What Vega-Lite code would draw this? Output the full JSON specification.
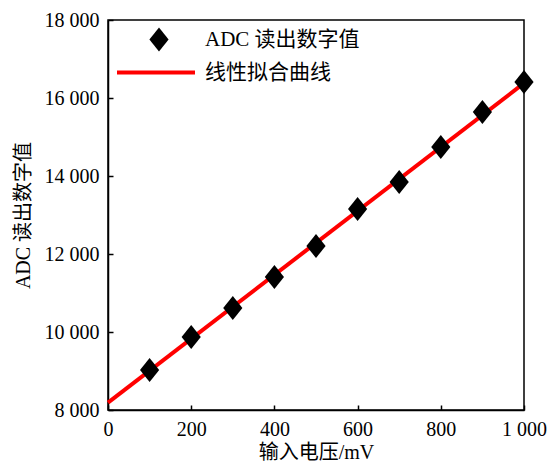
{
  "$schema": "https://vega.github.io/schema/vega-lite/v6.json",
  "width": 416,
  "height": 390,
  "autosize": {"type": "none"},
  "padding": {"left": 108, "top": 20, "right": 33, "bottom": 52},
  "background": "white",
  "config": {
    "view": {"stroke": "black", "strokeWidth": 1.5},
    "font": "Liberation Serif, Noto Sans CJK SC",
    "axis": {
      "grid": false,
      "domainColor": "black",
      "domainWidth": 1.5,
      "tickColor": "black",
      "tickWidth": 1.5,
      "tickSize": -5,
      "labelFont": "Liberation Serif",
      "labelFontSize": 20,
      "labelColor": "black",
      "labelFlush": false,
      "titleFont": "Liberation Serif, Noto Sans CJK SC",
      "titleFontSize": 20,
      "titleFontWeight": "normal",
      "titleColor": "black"
    }
  },
  "data": {
    "values": [
      {"x": 100, "y": 9025, "series": "ADC 读出数字值"},
      {"x": 200, "y": 9872, "series": "ADC 读出数字值"},
      {"x": 300, "y": 10615, "series": "ADC 读出数字值"},
      {"x": 400, "y": 11410, "series": "ADC 读出数字值"},
      {"x": 500, "y": 12205, "series": "ADC 读出数字值"},
      {"x": 600, "y": 13154, "series": "ADC 读出数字值"},
      {"x": 700, "y": 13846, "series": "ADC 读出数字值"},
      {"x": 800, "y": 14744, "series": "ADC 读出数字值"},
      {"x": 900, "y": 15641, "series": "ADC 读出数字值"},
      {"x": 1000, "y": 16410, "series": "ADC 读出数字值"},
      {"x": 0, "y": 8190, "series": "线性拟合曲线"},
      {"x": 1000, "y": 16380, "series": "线性拟合曲线"}
    ]
  },
  "encoding": {
    "x": {
      "field": "x",
      "type": "quantitative",
      "scale": {"domain": [0, 1000], "nice": false},
      "axis": {
        "values": [0, 200, 400, 600, 800, 1000],
        "labelExpr": "replace(format(datum.value, ','), ',', ' ')",
        "labelPadding": 14,
        "title": "输入电压/mV",
        "titlePadding": 3
      }
    },
    "y": {
      "field": "y",
      "type": "quantitative",
      "scale": {"domain": [8000, 18000], "nice": false},
      "axis": {
        "values": [8000, 10000, 12000, 14000, 16000, 18000],
        "labelExpr": "replace(format(datum.value, ','), ',', ' ')",
        "labelPadding": 14,
        "title": "ADC 读出数字值",
        "titlePadding": 11
      }
    },
    "color": {
      "field": "series",
      "type": "nominal",
      "scale": {"domain": ["ADC 读出数字值", "线性拟合曲线"], "range": ["black", "#ff0000"]},
      "legend": {
        "title": null,
        "orient": "none",
        "legendX": 0,
        "legendY": 9,
        "padding": 0,
        "labelFontSize": 21,
        "labelFont": "Liberation Serif, Noto Sans CJK SC",
        "labelColor": "black",
        "rowPadding": 9,
        "encode": {
          "symbols": {
            "update": {
              "x": {"signal": "datum.value === 'ADC 读出数字值' ? 51 : 48"},
              "shape": {"signal": "datum.value === 'ADC 读出数字值' ? 'M0,-1L0.8,0L0,1L-0.8,0Z' : 'stroke'"},
              "size": {"signal": "datum.value === 'ADC 读出数字值' ? 576 : 6084"},
              "fill": {"signal": "datum.value === 'ADC 读出数字值' ? 'black' : 'transparent'"},
              "stroke": {"signal": "datum.value === 'ADC 读出数字值' ? 'black' : '#ff0000'"},
              "strokeWidth": {"signal": "datum.value === 'ADC 读出数字值' ? 0 : 4"},
              "opacity": {"value": 1}
            }
          },
          "labels": {
            "update": {
              "x": {"value": 97}
            }
          }
        }
      }
    }
  },
  "layer": [
    {
      "transform": [{"filter": "datum.series === '线性拟合曲线'"}],
      "mark": {"type": "line", "strokeWidth": 4}
    },
    {
      "transform": [{"filter": "datum.series === 'ADC 读出数字值'"}],
      "mark": {"type": "point", "filled": true, "opacity": 1, "size": 576, "shape": "M0,-1L0.8,0L0,1L-0.8,0Z"}
    }
  ]
}
